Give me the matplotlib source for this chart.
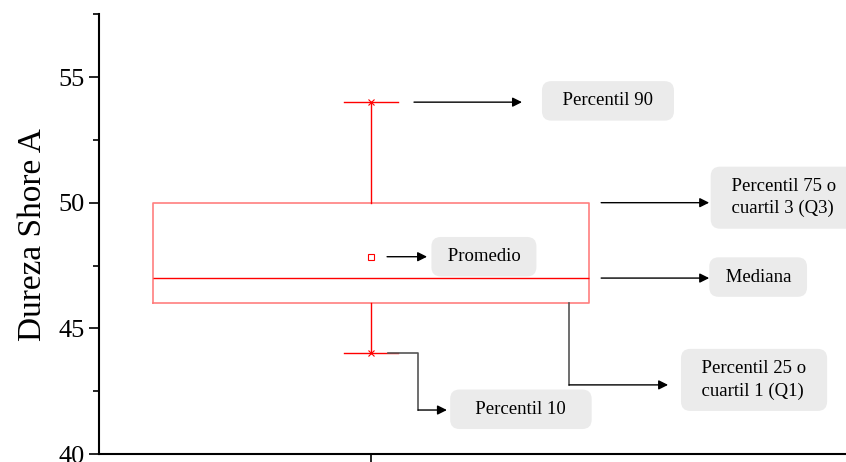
import matplotlib
matplotlib.use("Agg")
import matplotlib.pyplot as plt

# Box statistics (Dureza Shore A)
p10 = 44.0
q1 = 46.0
median = 47.0
mean = 47.85
q3 = 50.0
p90 = 54.0

labels = ["Percentil 90", "Percentil 75 o\ncuartil 3 (Q3)", "Mediana",
          "Promedio", "Percentil 25 o\ncuartil 1 (Q1)", "Percentil 10"]

plt.rcParams["font.family"] = ["Liberation Serif", "DejaVu Serif"]

fig = plt.figure(figsize=(8.46, 4.62), dpi=100)
ax = fig.add_axes([0.117, 0.0173, 0.883, 0.952])

red = "#ff0000"
light_red = "#ff7f7f"
stats = [dict(whislo=p10, q1=q1, med=median, q3=q3, whishi=p90, mean=mean, fliers=[])]
ax.bxp(stats, positions=[1], widths=1.6, showmeans=True, showfliers=False,
       boxprops=dict(color=light_red, linewidth=1.2),
       medianprops=dict(color=red, linewidth=1.0),
       whiskerprops=dict(color=red, linewidth=1.0),
       capprops=dict(color=red, linewidth=1.0), capwidths=0.2,
       meanprops=dict(marker="s", markersize=4, markerfacecolor="white",
                      markeredgecolor=red, markeredgewidth=0.8))
ax.plot([1, 1], [p90, p10], "x", color=red, markersize=5, markeredgewidth=0.8)

ax.set_xlim(0, 2.746)
ax.set_ylim(40, 57.5)
ax.set_xticks([1])
ax.set_xticklabels([""])
ax.set_yticks([40, 45, 50, 55])
ax.set_yticks([42.5, 47.5, 52.5, 57.5], minor=True)
ax.tick_params(axis="y", which="major", length=7, width=1.2, labelsize=19, pad=3)
ax.tick_params(axis="y", which="minor", length=4, width=1.2)
ax.tick_params(axis="x", length=7, width=1.2)
for s in ["top", "right"]:
    ax.spines[s].set_visible(False)
for s in ["left", "bottom"]:
    ax.spines[s].set_linewidth(1.5)
ax.set_ylabel("Dureza Shore A", fontsize=24, labelpad=8)

box = dict(boxstyle="round,pad=0.6,rounding_size=0.5", fc="#ebebeb", ec="none")
arrow = dict(arrowstyle="-|>", color="black", lw=1.0, mutation_scale=14, shrinkA=0, shrinkB=0)
tkw = dict(fontsize=13.5, va="center", bbox=box)


def padded(s, n=2):
    return "\n".join(" " * n + line + " " * n for line in s.split("\n"))


# straight arrows
ax.annotate("", xy=(1.555, p90), xytext=(1.158, p90), arrowprops=arrow, annotation_clip=False)
ax.annotate("", xy=(2.243, q3), xytext=(1.846, q3), arrowprops=arrow, annotation_clip=False)
ax.annotate("", xy=(2.243, median), xytext=(1.846, median), arrowprops=arrow, annotation_clip=False)
ax.annotate("", xy=(1.206, mean), xytext=(1.059, mean), arrowprops=arrow, annotation_clip=False)

# elbow connectors
gray = "#555555"
ax.plot([1.728, 1.728], [q1, 42.75], color=gray, lw=1.2)
ax.annotate("", xy=(2.092, 42.75), xytext=(1.728, 42.75), arrowprops=arrow)
ax.plot([1.0625, 1.173, 1.173], [p10, p10, 41.75], color=gray, lw=1.2)
ax.annotate("", xy=(1.279, 41.75), xytext=(1.173, 41.75), arrowprops=arrow)

# label boxes
ax.text(1.871, 54.05, padded(labels[0]), ha="center", **tkw)
ax.text(2.29, 50.2, padded(labels[1]), ha="left", linespacing=1.4, **tkw)
ax.text(2.423, 47.04, padded(labels[2], 1), ha="center", **tkw)
ax.text(1.415, 47.85, padded(labels[3], 1), ha="center", **tkw)
ax.text(2.408, 42.95, padded(labels[4]), ha="center", multialignment="left", linespacing=1.4, **tkw)
ax.text(1.551, 41.78, padded(labels[5], 3), ha="center", **tkw)

fig.savefig("out.png", dpi=100)
